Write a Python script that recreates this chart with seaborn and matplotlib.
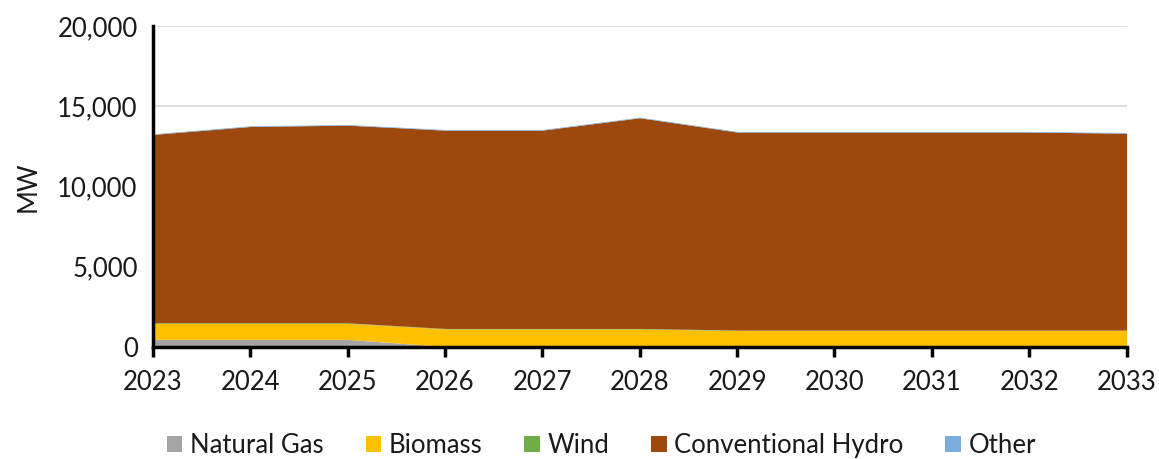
import matplotlib
matplotlib.use("Agg")
import matplotlib.pyplot as plt
import seaborn as sns
import numpy as np

years = [2023, 2024, 2025, 2026, 2027, 2028, 2029, 2030, 2031, 2032, 2033]
natural_gas = [450, 450, 450, 0, 0, 0, 0, 0, 0, 0, 0]
biomass = [1000, 1000, 1000, 1100, 1100, 1100, 1000, 1000, 1000, 1000, 1000]
wind = [30, 30, 30, 30, 30, 30, 30, 30, 30, 30, 30]
hydro = [11760, 12260, 12340, 12380, 12380, 13150, 12360, 12360, 12360, 12360, 12290]
other = [40, 40, 40, 40, 40, 40, 40, 40, 40, 40, 40]
labels = ["Natural Gas", "Biomass", "Wind", "Conventional Hydro", "Other"]
colors = ["#A5A5A5", "#FFC000", "#70AD47", "#9E480E", "#7AAEDF"]
yticks = [0, 5000, 10000, 15000, 20000]

sns.set_theme(style="white")
plt.rcParams['font.family'] = ['Lato', 'DejaVu Sans']

fig = plt.figure(figsize=(11.59, 4.59), dpi=100)
ax = fig.add_axes([0.132, 0.245, 0.840, 0.698])
ax.stackplot(years, natural_gas, biomass, wind, hydro, other,
             labels=labels, colors=colors, linewidth=0)

ax.set_xlim(2023, 2033)
ax.set_ylim(0, 20000)
ax.set_xticks(years)
ax.set_yticks(yticks)
ax.set_yticklabels([f"{v:,}" for v in yticks])
ax.yaxis.grid(True, color="#D9D9D9", linewidth=1.2)
ax.set_axisbelow(True)
for s in ["top", "right"]:
    ax.spines[s].set_visible(False)
for s in ["left", "bottom"]:
    ax.spines[s].set_color("black")
    ax.spines[s].set_linewidth(2.5)
ax.tick_params(axis="x", direction="out", length=7, width=2.5, color="black",
               labelsize=18.5, pad=10, bottom=True, labelcolor="#1a1a1a")
ax.tick_params(axis="y", length=0, labelsize=18.5, pad=11, labelcolor="#1a1a1a")
ax.set_ylabel("MW", fontsize=18.5, labelpad=12, color="#1a1a1a")

handles, labs = ax.get_legend_handles_labels()
leg = fig.legend(handles, labs, loc="center", bbox_to_anchor=(0.519, 0.03),
                 ncol=5, frameon=False, fontsize=18.5, handlelength=0.6,
                 handleheight=0.6, handletextpad=0.3, columnspacing=1.63,
                 labelcolor="#1a1a1a")

fig.savefig("out.png", dpi=100)
